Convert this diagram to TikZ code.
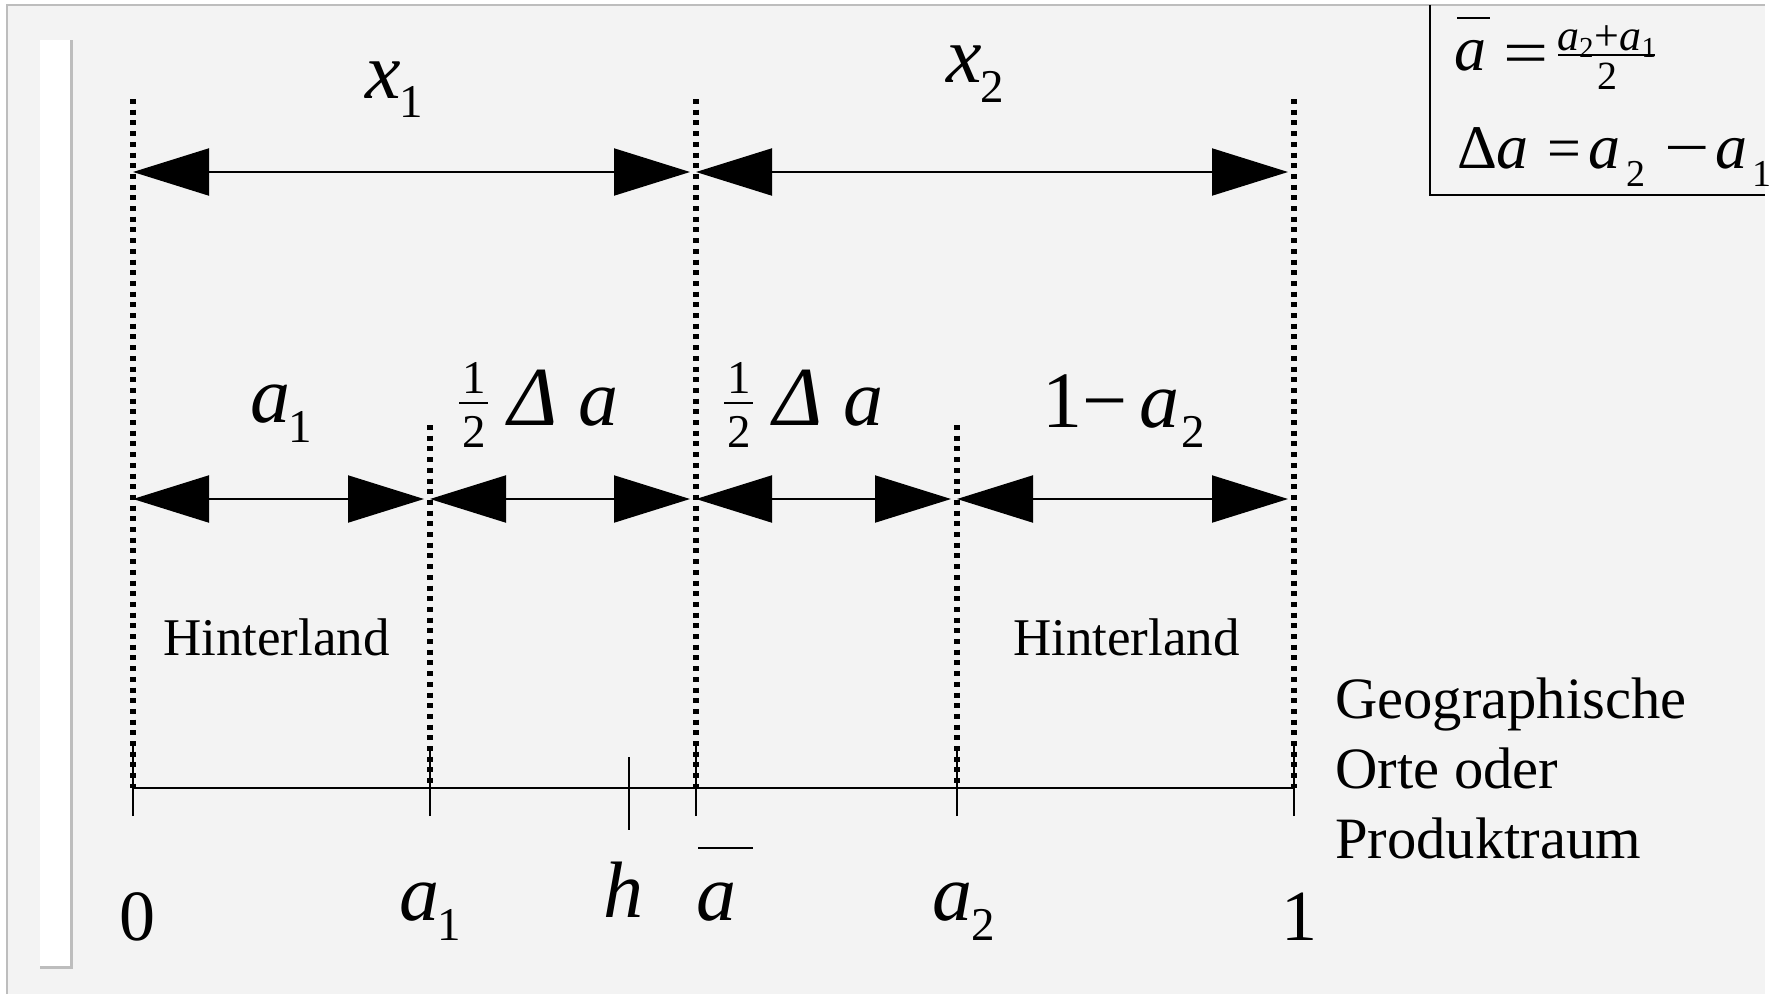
\documentclass[tikz,border=0pt]{standalone}
\usepackage{graphicx}
\usepackage{fontspec}
\setmainfont{Liberation Serif}
\usetikzlibrary{arrows.meta}
\newcommand\fsz[1]{\fontsize{#1}{#1}\selectfont}
\definecolor{bg}{HTML}{F3F3F3}
\definecolor{framegray}{HTML}{BDBDBD}
\tikzset{
  lbl/.style={inner sep=0pt, anchor=base west},
  lblc/.style={inner sep=0pt, anchor=base},
  mi/.style={font=\fsz{80}\itshape},
  mbig/.style={font=\fsz{80}},
  msub/.style={font=\fsz{47}},
  txt/.style={font=\fsz{53}},
  dotline/.style={line width=5.2pt, dash pattern=on 5pt off 5.7pt},
  dimarrow/.style={line width=2pt, {Triangle[length=76pt,width=47pt]}-{Triangle[length=76pt,width=47pt]}},
  axisline/.style={line width=2pt},
  rulethin/.style={line width=2pt},
}
\begin{document}
\begin{tikzpicture}[x=1pt,y=-1pt]
\useasboundingbox (0,0) rectangle (1771,994);
\fill[white] (0,0) rectangle (1771,994);
\fill[bg] (7,5) rectangle (1765,994);
\draw[framegray, line width=2pt] (7,994) -- (7,5) -- (1765,5);
% white bar at left
\fill[white] (40,40) rectangle (70,966);
\draw[framegray, line width=3pt] (71,40) -- (71,967) -- (40,967);

% reference points
\coordinate (t0) at (133,99);   \coordinate (b0) at (133,788);
\coordinate (ta1) at (430,425); \coordinate (ba1) at (430,788);
\coordinate (tA) at (696,99);   \coordinate (bA) at (696,788);
\coordinate (ta2) at (957,425); \coordinate (ba2) at (957,788);
\coordinate (t1) at (1294,99);  \coordinate (b1) at (1294,788);
\coordinate (th) at (629,757);  \coordinate (bh) at (629,830);

% dotted verticals
\draw[dotline] (t0) -- (b0);
\draw[dotline] (ta1) -- (ba1);
\draw[dotline] (tA) -- (bA);
\draw[dotline] (ta2) -- (ba2);
\draw[dotline] (t1) -- (b1);

% axis and ticks
\draw[axisline] (b0) -- (b1);
\foreach \p in {b0,ba1,bA,ba2,b1}{
  \draw[axisline] ([yshift=-28pt]\p) -- ([yshift=42pt]\p);
}
\draw[axisline] (th) -- (bh);

% dimension arrows, top row
\coordinate (u0) at (133,172); \coordinate (uAl) at (690,172);
\coordinate (uA) at (696,172); \coordinate (u1l) at (1288,172);
\draw[dimarrow] (u0) -- (uAl);
\draw[dimarrow] (uA) -- (u1l);

% dimension arrows, middle row
\coordinate (m0) at (133,499);  \coordinate (ma1l) at (424,499);
\coordinate (ma1) at (430,499); \coordinate (mAl) at (690,499);
\coordinate (mA) at (696,499);  \coordinate (ma2l) at (951,499);
\coordinate (ma2) at (957,499); \coordinate (m1l) at (1288,499);
\draw[dimarrow] (m0) -- (ma1l);
\draw[dimarrow] (ma1) -- (mAl);
\draw[dimarrow] (mA) -- (ma2l);
\draw[dimarrow] (ma2) -- (m1l);

% top labels
\node[lbl, mi] (x1) at (365,98) {x};
\node[lbl, msub] (x1s) at (399,117) {1};
\node[lbl, mi] (x2) at (946,82) {x};
\node[lbl, msub] (x2s) at (980,102) {2};

% middle labels
\node[lbl, mi] (la1) at (250,422) {a};
\node[lbl, msub] (la1s) at (288,442) {1};
\node[lblc, msub] (f1n) at (474,393) {1};
\draw[rulethin] (459,403) -- (488,403);
\node[lblc, msub] (f1d) at (474,447) {2};
\node[lbl, font=\fsz{84}\itshape] (d1) at (508,425) {Δ};
\node[lbl, mi] (da1) at (578,425) {a};
\node[lblc, msub] (f2n) at (739,393) {1};
\draw[rulethin] (724,403) -- (753,403);
\node[lblc, msub] (f2d) at (739,447) {2};
\node[lbl, font=\fsz{84}\itshape] (d2) at (773,425) {Δ};
\node[lbl, mi] (da2) at (843,425) {a};
\node[lbl, mbig] (oma) at (1042,427) {1−\kern12pt{\itshape a}};
\node[lbl, msub] (omas) at (1181,447) {2};

% Hinterland
\node[lbl, txt] (hl1) at (163,655) {Hinterland};
\node[lbl, txt] (hl2) at (1013,655) {Hinterland};

% axis description
\node[lbl, font=\fsz{58.6}] (g1) at (1335,718) {Geographische};
\node[lbl, font=\fsz{58.6}] (g2) at (1335,788) {Orte oder};
\node[lbl, font=\fsz{58.6}] (g3) at (1335,858) {Produktraum};

% bottom labels
\node[lblc, font=\fsz{72}] (l0) at (137,940) {0};
\node[lbl, mi] (ba1l) at (399,920) {a};
\node[lbl, msub] (ba1s) at (437,940) {1};
\node[lbl, mi] (lh) at (603,917) {h};
\node[lbl, mi] (lab) at (696,920) {a};
\draw[rulethin] (698,848) -- (753,848);
\node[lbl, mi] (ba2l) at (932,920) {a};
\node[lbl, msub] (ba2s) at (971,940) {2};
\node[lblc, font=\fsz{72}] (l1) at (1299,940) {1};

% formula box
\draw[line width=2.5pt] (1430,5) -- (1430,195) -- (1765,195);
\node[lbl, font=\fsz{64}\itshape] (bxa) at (1454,70) {a};
\draw[rulethin] (1457,18) -- (1490,18);
\node[lbl, font=\fsz{64}] (bxeq) at (1503,74) {\scalebox{1.25}[1]{=}};
\node[lbl, font=\fsz{44}] (bxn) at (1557,50) {{\itshape a}\raisebox{-7pt}{\fsz{29}2}\kern1pt+{\itshape a}\raisebox{-7pt}{\fsz{29}1}};
\draw[rulethin] (1558,55) -- (1655,55);
\node[lblc, font=\fsz{40}] (bxd) at (1607,89) {2};
\node[lbl, font=\fsz{62}] (bxD) at (1457,168) {Δ};
\node[lbl, font=\fsz{64}\itshape] (bxa2) at (1496,168) {a};
\node[lbl, font=\fsz{60}] (bxeq2) at (1547,168) {=};
\node[lbl, font=\fsz{64}\itshape] (bxa3) at (1588,168) {a};
\node[lbl, font=\fsz{38}] (bxa3s) at (1626,186) {2};
\node[lbl, font=\fsz{62}] (bxm) at (1664,168) {\scalebox{1.3}[1]{−}};
\node[lbl, font=\fsz{64}\itshape] (bxa4) at (1715,168) {a};
\node[lbl, font=\fsz{38}] (bxa4s) at (1752,186) {1};
\end{tikzpicture}
\end{document}
